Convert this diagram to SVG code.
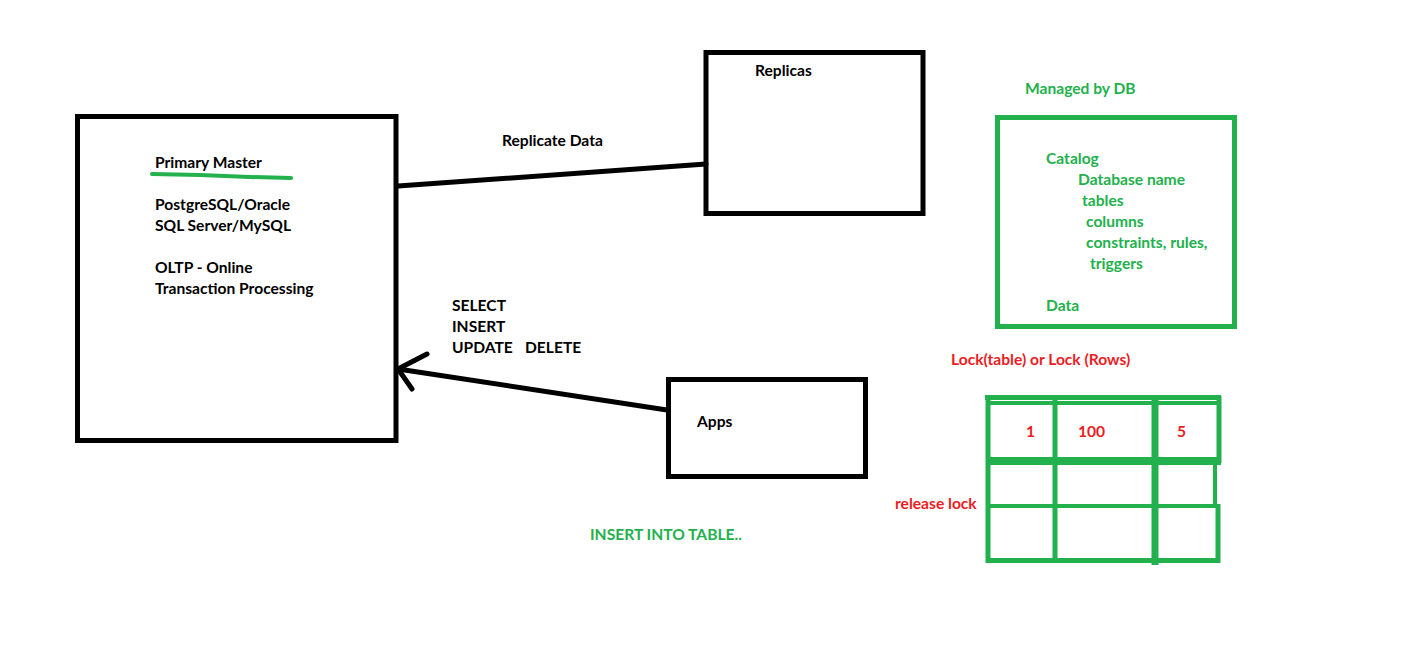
<svg xmlns="http://www.w3.org/2000/svg" width="1409" height="659" viewBox="0 0 1409 659">
<style>
text{font-family:Lato,"Open Sans","Liberation Sans",sans-serif;font-weight:bold;font-size:15.6px}
.k{fill:#000}.g{fill:#22b14c}.r{fill:#ed1c24}
.bx{fill:none;stroke:#000;stroke-width:5}
.gl{fill:none;stroke:#22b14c}
.cn{fill:none;stroke:#000;stroke-width:5;stroke-linecap:round}
</style>
<rect width="1409" height="659" fill="#fff"/>
<g id="primary">
<rect class="bx" x="77.5" y="116.5" width="318.5" height="324"/>
<text class="k" x="155" y="168">Primary Master</text>
<path d="M152 174 L200 175 L250 177 L291 178" stroke="#22b14c" stroke-width="4" fill="none" stroke-linecap="round"/>
<text class="k" x="155" y="210">PostgreSQL/Oracle</text>
<text class="k" x="155" y="231">SQL Server/MySQL</text>
<text class="k" x="155" y="273">OLTP - Online</text>
<text class="k" x="155" y="294">Transaction Processing</text>
</g>
<g id="replicas">
<rect class="bx" x="706" y="52.5" width="217" height="161"/>
<text class="k" x="755" y="76">Replicas</text>
</g>
<g id="apps">
<rect class="bx" x="668.5" y="379.5" width="197" height="97"/>
<text class="k" x="697" y="427">Apps</text>
</g>
<g id="connectors">
<path class="cn" d="M398 186 L706 164"/>
<path class="cn" d="M667 410 L398 369"/>
<path class="cn" d="M427 354 L398 369 L412 389"/>
</g>
<g id="labels">
<text class="k" x="502" y="146">Replicate Data</text>
<text class="k" x="452" y="311">SELECT</text>
<text class="k" x="452" y="332">INSERT</text>
<text class="k" x="452" y="353">UPDATE</text>
<text class="k" x="525" y="353">DELETE</text>
<text class="g" x="590" y="540">INSERT INTO TABLE..</text>
</g>
<g id="catalog">
<text class="g" x="1025" y="94">Managed by DB</text>
<rect class="gl" stroke-width="5" x="997.5" y="117.5" width="237" height="209"/>
<text class="g" x="1046" y="164">Catalog</text>
<text class="g" x="1078" y="185">Database name</text>
<text class="g" x="1082" y="206">tables</text>
<text class="g" x="1086" y="227">columns</text>
<text class="g" x="1086" y="248">constraints, rules,</text>
<text class="g" x="1090" y="269">triggers</text>
<text class="g" x="1046" y="311">Data</text>
</g>
<g id="lock-table">
<text class="r" x="951" y="365">Lock(table) or Lock (Rows)</text>
<text class="r" x="895" y="509">release lock</text>
<path class="gl" stroke-width="5" d="M985 397.5 H1221"/>
<path class="gl" stroke-width="4" d="M990 403 H1220"/>
<path class="gl" stroke-width="8" d="M987 461 H1221"/>
<path class="gl" stroke-width="4" d="M987 506 H1218"/>
<path class="gl" stroke-width="5" d="M986 560.5 H1220"/>
<path class="gl" stroke-width="5" d="M988 396 V563"/>
<path class="gl" stroke-width="5" d="M1055 396 V563"/>
<path class="gl" stroke-width="7" d="M1155 396 V565"/>
<path class="gl" stroke-width="5" d="M1219 396 V463"/>
<path class="gl" stroke-width="4" d="M1215 461 V506"/>
<path class="gl" stroke-width="5" d="M1218 504 V563"/>
<text class="r" x="1026" y="437">1</text>
<text class="r" x="1078" y="437">100</text>
<text class="r" x="1177" y="437">5</text>
</g>
</svg>
